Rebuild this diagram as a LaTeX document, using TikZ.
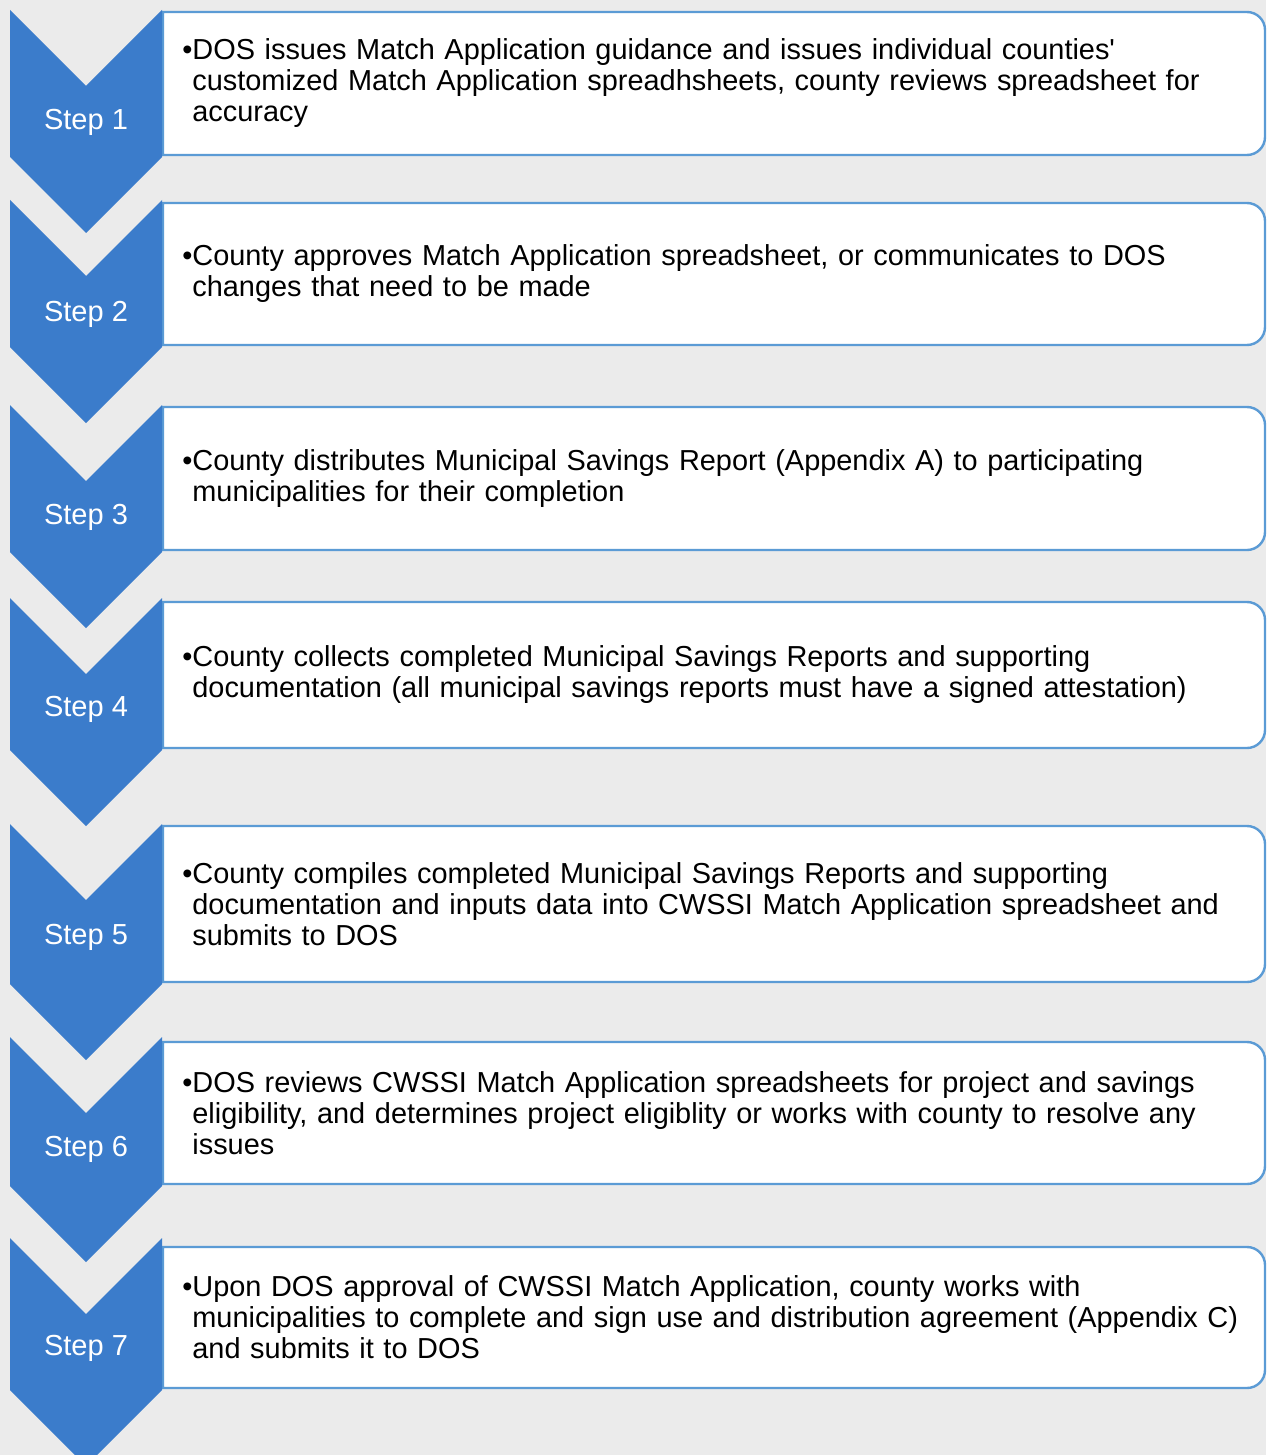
\documentclass[tikz,border=0pt]{standalone}
\usepackage{fontspec}
\setmainfont{Liberation Sans}
\usepackage{tikz}

\definecolor{chevblue}{HTML}{3B7CCB}
\definecolor{edgeblue}{HTML}{5B9BD5}
\definecolor{paper}{HTML}{EBEBEB}

\begin{document}
\begin{tikzpicture}[
		x=0.5pt, y=-0.5pt
		,chev/.style={fill=chevblue}
		,stepbox/.style={draw=edgeblue, line width=1.2pt, fill=white}
		,lbl/.style={text=white, font=\fontsize{14.5}{16}\selectfont}
		,desc/.style={anchor=west, inner sep=0pt, align=left, text width=560pt, font=\fontsize{14.45}{15.5}\selectfont}
	]
	\fill[paper] (0,0) rectangle (1266,1455);
	\useasboundingbox (0,0) rectangle (1266,1455);

	\foreach \n/\ct/\bt/\bb/\ly in {1/10/12/155/122, 2/200/203/345/314, 3/405/407/550/517, 4/598/602/748/709, 5/824/826/982/937, 6/1037/1042/1184/1149, 7/1238/1247/1388/1348}
	{
		\draw[stepbox] (700,\bt) [rounded corners=9pt] -- (1265,\bt) -- (1265,\bb) -- (700,\bb) [sharp corners] -- (163,\bb) -- (163,\bt) -- cycle;
		\fill[chev] (10,\ct) -- (86,{\ct+76}) -- (162,\ct) -- (162,{\bb+2}) -- (86,{\bb+78}) -- (10,{\bb+2}) -- cycle;
		\node[lbl] (s\n) at (86,\ly) {Step \n};
		\coordinate (m\n) at (192,{(\bt+\bb)/2});
	}

	\node[desc] (d1) at (m1) {\llap{•}DOS issues Match Application guidance and issues individual counties\textquotesingle\\
		customized Match Application spreadhsheets, county reviews spreadsheet for\\
		accuracy};
	\node[desc] (d2) at (m2) {\llap{•}County approves Match Application spreadsheet, or communicates to DOS\\
		changes that need to be made};
	\node[desc] (d3) at (m3) {\llap{•}County distributes Municipal Savings Report (Appendix A) to participating\\
		municipalities for their completion};
	\node[desc] (d4) at (m4) {\llap{•}County collects completed Municipal Savings Reports and supporting\\
		documentation (all municipal savings reports must have a signed attestation)};
	\node[desc] (d5) at (m5) {\llap{•}County compiles completed Municipal Savings Reports and supporting\\
		documentation and inputs data into CWSSI Match Application spreadsheet and\\
		submits to DOS};
	\node[desc] (d6) at (m6) {\llap{•}DOS reviews CWSSI Match Application spreadsheets for project and savings\\
		eligibility, and determines project eligiblity or works with county to resolve any\\
		issues};
	\node[desc] (d7) at (m7) {\llap{•}Upon DOS approval of CWSSI Match Application, county works with\\
		municipalities to complete and sign use and distribution agreement (Appendix C)\\
		and submits it to DOS};
\end{tikzpicture}
\end{document}
